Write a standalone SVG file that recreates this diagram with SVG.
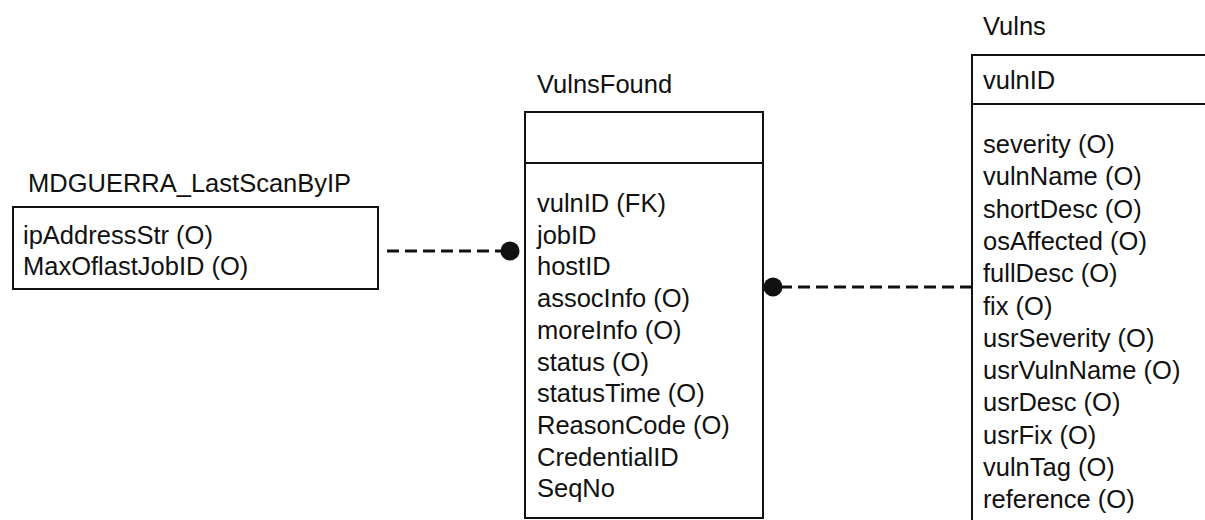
<svg xmlns="http://www.w3.org/2000/svg" width="1205" height="520" viewBox="0 0 1205 520">
<style>
text{font-family:"Liberation Sans",Arial,sans-serif;font-size:25.5px;fill:#111}
.box{fill:#fff;stroke:#111;stroke-width:2}
.div{stroke:#111;stroke-width:2}
.conn{stroke:#111;stroke-width:3;stroke-dasharray:12 6;fill:none}
.dot{fill:#111}
</style>
<rect width="1205" height="520" fill="#fff"/>
<g id="connectors">
<line class="conn" x1="387" y1="251" x2="503" y2="251"/>
<circle class="dot" cx="510" cy="251" r="9.5"/>
<line class="conn" x1="780" y1="287" x2="972" y2="287"/>
<circle class="dot" cx="773" cy="287" r="9.5"/>
</g>
<g id="MDGUERRA_LastScanByIP">
<text x="28" y="192">MDGUERRA_LastScanByIP</text>
<rect class="box" x="13" y="207" width="365" height="82"/>
<text x="23" y="244">ipAddressStr (O)</text>
<text x="23" y="275">MaxOflastJobID (O)</text>
</g>
<g id="VulnsFound">
<text x="537" y="93">VulnsFound</text>
<rect class="box" x="525" y="112" width="238" height="406"/>
<line class="div" x1="525" y1="163" x2="763" y2="163"/>
<text x="537" y="212">vulnID (FK)</text>
<text x="537" y="243.7">jobID</text>
<text x="537" y="275.4">hostID</text>
<text x="537" y="307.1">assocInfo (O)</text>
<text x="537" y="338.8">moreInfo (O)</text>
<text x="537" y="370.5">status (O)</text>
<text x="537" y="402.2">statusTime (O)</text>
<text x="537" y="433.9">ReasonCode (O)</text>
<text x="537" y="465.6">CredentialID</text>
<text x="537" y="497.3">SeqNo</text>
</g>
<g id="Vulns">
<text x="983" y="35">Vulns</text>
<rect class="box" x="972" y="55" width="260" height="500"/>
<line class="div" x1="972" y1="104" x2="1205" y2="104"/>
<text x="983" y="89">vulnID</text>
<text x="983" y="153">severity (O)</text>
<text x="983" y="185.3">vulnName (O)</text>
<text x="983" y="217.6">shortDesc (O)</text>
<text x="983" y="249.9">osAffected (O)</text>
<text x="983" y="282.2">fullDesc (O)</text>
<text x="983" y="314.5">fix (O)</text>
<text x="983" y="346.8">usrSeverity (O)</text>
<text x="983" y="379.1">usrVulnName (O)</text>
<text x="983" y="411.4">usrDesc (O)</text>
<text x="983" y="443.7">usrFix (O)</text>
<text x="983" y="476">vulnTag (O)</text>
<text x="983" y="508.3">reference (O)</text>
</g>
</svg>
